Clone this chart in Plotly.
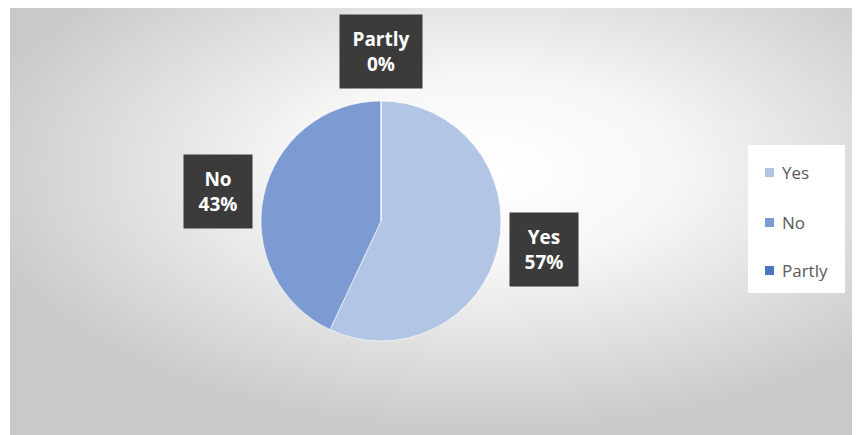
import base64
import plotly.graph_objects as go

# Data
categories = ["Yes", "No", "Partly"]
values = [57, 43, 0]
colors = ["#b3c5e5", "#7b9bd2", "#4a76c0"]

# page offset of the plot div (browser body margin)
OFF = 8
W, H = 860 - OFF, 435 - OFF


def px(x):
    return (x - OFF) / W


def py(y):
    return 1 - (y - OFF) / H


# Radial gradient background as inline SVG (reference coords shifted by OFF)
svg = f'''<svg xmlns="http://www.w3.org/2000/svg" width="{W}" height="{H}" viewBox="0 0 {W} {H}">
<defs><radialGradient id="g" cx="0.56" cy="0.38" r="0.62" gradientUnits="objectBoundingBox">
<stop offset="0" stop-color="#ffffff"/><stop offset="0.35" stop-color="#f7f7f7"/>
<stop offset="1" stop-color="#c9c9c9"/></radialGradient></defs>
<rect x="0" y="0" width="{W}" height="{H}" fill="#ffffff"/>
<rect x="2" y="0" width="{W-2}" height="{H}" fill="url(#g)"/>
</svg>'''
bg_src = "data:image/svg+xml;base64," + base64.b64encode(svg.encode()).decode()

cx, cy, r = 381, 221, 120
fig = go.Figure(go.Pie(
    labels=categories, values=values, sort=False, direction="clockwise", rotation=0,
    marker=dict(colors=colors, line=dict(color="rgba(255,255,255,0.6)", width=1)),
    textinfo="none", hoverinfo="label+percent", showlegend=False,
    domain=dict(x=[px(cx - r), px(cx + r)], y=[py(cy + r), py(cy - r)]),
))

total = sum(values)
# label box centres and text-area widths
label_pos = {"Yes": (544, 249.5, 52), "No": (218, 191, 52), "Partly": (381, 51.5, 66)}
font_family = "Open Sans, Lato, sans-serif"
for cat, val in zip(categories, values):
    x, y, w = label_pos[cat]
    fig.add_annotation(
        x=px(x), y=py(y), xref="paper", yref="paper", xanchor="center", yanchor="middle",
        text=f"<b>{cat}<br>{round(100 * val / total)}%</b>", showarrow=False,
        align="center", valign="middle", width=w, height=57,
        font=dict(family=font_family, size=19, color="white"),
        bgcolor="#3b3b3b", borderpad=8,
    )

# Manual legend
fig.add_shape(type="rect", xref="paper", yref="paper",
              x0=px(748), x1=px(845), y0=py(293), y1=py(145),
              fillcolor="white", line=dict(width=0), layer="below")
leg_y = [172, 222, 270]
for cat, col, ly in zip(categories, colors, leg_y):
    fig.add_shape(type="rect", xref="paper", yref="paper",
                  x0=px(765), x1=px(774), y0=py(ly + 5), y1=py(ly - 4),
                  fillcolor=col, line=dict(width=0))
    fig.add_annotation(x=px(780), y=py(ly), xref="paper", yref="paper",
                       text=cat, showarrow=False, xanchor="left", yanchor="middle",
                       font=dict(family=font_family, size=17, color="#595959"))

fig.update_layout(
    width=W, height=H, margin=dict(l=0, r=0, t=0, b=0),
    paper_bgcolor="white", plot_bgcolor="rgba(0,0,0,0)",
    images=[dict(source=bg_src, xref="paper", yref="paper", x=0, y=1,
                 sizex=1, sizey=1, xanchor="left", yanchor="top",
                 sizing="stretch", layer="below")],
)
fig.write_html("out.html")
